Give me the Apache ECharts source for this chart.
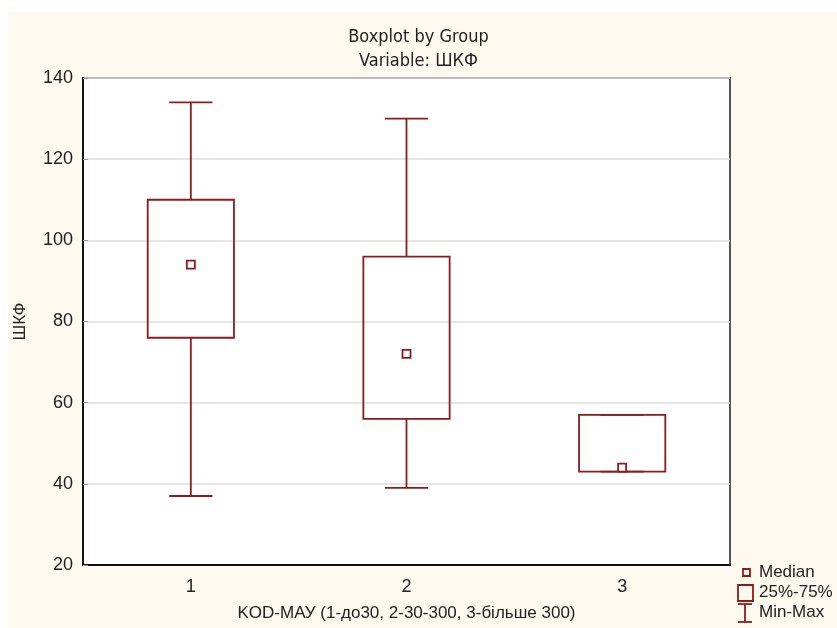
<!DOCTYPE html>
<html>
<head>
<meta charset="utf-8">
<script src="https://cdn.jsdelivr.net/npm/echarts@6/dist/echarts.min.js"></script>
<style>
  html, body { margin: 0; padding: 0; background: #fff; }
  #bg { position: absolute; left: 8px; top: 12px; width: 829px; height: 616px; background: #fef9ee; }
  #chart { position: absolute; left: 0; top: 0; width: 837px; height: 628px; }
</style>
</head>
<body>
<div id="bg"></div>
<div id="chart"></div>
<script>
// groups on the x axis
const groups = ['1', '2', '3']
// per-group stats: min, Q1, median, Q3, max
const minVals = [37, 39, 43]
const q1Vals = [76, 56, 43]
const medianVals = [94, 72, 44]
const q3Vals = [110, 96, 57]
const maxVals = [134, 130, 57]
// y axis ticks
const yMin = 20
const yMax = 140
const yStep = 20

const boxColor = '#8c1c1c'
const textColor = '#222'
const font = '"Liberation Sans", Arial, sans-serif'

const boxData = groups.map((g, i) => [i, minVals[i], q1Vals[i], medianVals[i], q3Vals[i], maxVals[i]])

// whiskers, box and median marker drawn through the axis scales
const renderBox = (params, api) => {
  const x = api.value(0)
  const lo = api.coord([x, api.value(1)])
  const q1 = api.coord([x, api.value(2)])
  const med = api.coord([x, api.value(3)])
  const q3 = api.coord([x, api.value(4)])
  const hi = api.coord([x, api.value(5)])
  const band = api.size([1, 0])[0]
  const bw = band * 0.4
  const cw = bw / 2
  const cx = lo[0]
  const st = { stroke: boxColor, lineWidth: 1.8, fill: null }
  const line = (x1, y1, x2, y2) => ({ type: 'line', shape: { x1, y1, x2, y2 }, style: st })
  return {
    type: 'group',
    children: [
      line(cx, hi[1], cx, q3[1]),
      line(cx, q1[1], cx, lo[1]),
      line(cx - cw / 2, hi[1], cx + cw / 2, hi[1]),
      line(cx - cw / 2, lo[1], cx + cw / 2, lo[1]),
      { type: 'rect', shape: { x: cx - bw / 2, y: q3[1], width: bw, height: q1[1] - q3[1] }, style: st },
      { type: 'rect', shape: { x: cx - 4, y: med[1] - 4, width: 8, height: 8 },
        style: { stroke: boxColor, lineWidth: 1.8, fill: '#fff' } }
    ]
  }
}

const legendText = (y, text) => ({
  type: 'text', left: 759, top: y - 10,
  style: { text, fill: textColor, font: '17px ' + font }
})
const legendStyle = { stroke: boxColor, lineWidth: 1.8, fill: null }

const chart = echarts.init(document.getElementById('chart'))
chart.setOption({
  backgroundColor: 'transparent',
  animation: false,
  title: {
    text: 'Boxplot by Group\nVariable: ШКФ',
    left: 'center',
    top: 20,
    textStyle: { color: textColor, fontSize: 18, fontWeight: 'normal', lineHeight: 24,
      fontFamily: '"Liberation Sans Narrow", "DejaVu Sans Condensed", sans-serif' }
  },
  grid: {
    left: 83, right: 107, top: 78, bottom: 63,
    show: true, backgroundColor: '#fff', borderColor: '#555', borderWidth: 2
  },
  xAxis: [{
    type: 'category',
    data: groups,
    boundaryGap: true,
    name: 'KOD-МАУ (1-до30, 2-30-300, 3-більше 300)',
    nameLocation: 'middle',
    nameGap: 40,
    nameTextStyle: { color: textColor, fontSize: 17, fontFamily: font },
    axisLine: { lineStyle: { color: '#111', width: 2 } },
    axisTick: { inside: true, alignWithLabel: true, length: 5, lineStyle: { color: '#111' } },
    axisLabel: { color: textColor, fontSize: 18, fontFamily: font, margin: 13 },
    splitLine: { show: false }
  }, {
    type: 'category',
    data: groups,
    position: 'top',
    boundaryGap: true,
    axisLine: { show: false },
    axisTick: { inside: true, alignWithLabel: true, length: 5, lineStyle: { color: '#111' } },
    axisLabel: { show: false }
  }],
  yAxis: {
    type: 'value',
    min: yMin, max: yMax, interval: yStep,
    name: 'ШКФ',
    nameLocation: 'middle',
    nameGap: 54,
    nameTextStyle: { color: textColor, fontSize: 17, fontFamily: font },
    axisLine: { show: true, lineStyle: { color: '#111', width: 2 } },
    axisTick: { show: true, inside: true, length: 5, lineStyle: { color: '#999' } },
    axisLabel: { color: textColor, fontSize: 18, fontFamily: font, margin: 10 },
    splitLine: { lineStyle: { color: '#dedede', width: 1.5 } }
  },
  series: [{
    type: 'custom',
    renderItem: renderBox,
    encode: { x: 0, y: [1, 2, 3, 4, 5] },
    data: boxData,
    z: 3
  }],
  graphic: [
    { type: 'rect', shape: { x: 743, y: 569, width: 7, height: 7 }, style: legendStyle },
    { type: 'rect', shape: { x: 738, y: 585, width: 15, height: 16 }, style: legendStyle },
    { type: 'line', shape: { x1: 738, y1: 604, x2: 752, y2: 604 }, style: legendStyle },
    { type: 'line', shape: { x1: 745, y1: 604, x2: 745, y2: 622 }, style: legendStyle },
    { type: 'line', shape: { x1: 738, y1: 622, x2: 752, y2: 622 }, style: legendStyle },
    legendText(574, 'Median'),
    legendText(594, '25%-75%'),
    legendText(614, 'Min-Max')
  ]
})
</script>
</body>
</html>
